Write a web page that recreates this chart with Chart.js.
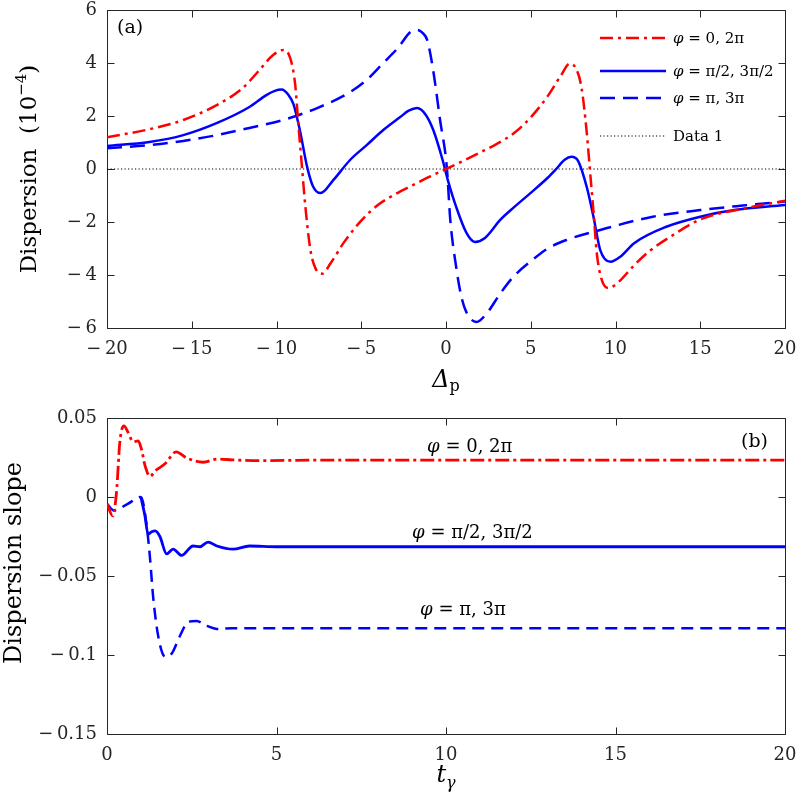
<!DOCTYPE html>
<html>
<head>
<meta charset="utf-8">
<script src="https://cdn.jsdelivr.net/npm/chart.js@4.4.1/dist/chart.umd.min.js"></script>
<style>
  html, body { margin: 0; padding: 0; background: #ffffff; }
  #wrap { position: relative; width: 796px; height: 800px; }
  canvas { position: absolute; left: 0; }
  #c1 { top: 0; }
  #c2 { top: 400px; }
</style>
</head>
<body>
<div id="wrap">
  <canvas id="c1" width="796" height="400"></canvas>
  <canvas id="c2" width="796" height="400"></canvas>
</div>
<script>
// ---------------- DATA: panel (a) ----------------
const deltaRed = [-20, -17.5, -15.5, -13.5, -12, -11, -10.2, -9.6, -9.2, -8.9, -8.7, -8.5, -8.3, -8.0, -7.7, -7.3, -6.8, -6, -5, -4, -3, -2, -1, 0, 1, 2, 3, 4, 5, 6, 6.8, 7.3, 7.7, 8.0, 8.3, 8.5, 8.7, 8.9, 9.2, 9.6, 10.2, 11, 12, 13.5, 15, 17.5, 20];
const dispRed = [1.2, 1.5, 1.85, 2.42, 3.05, 3.74, 4.3, 4.49, 4.2, 3.2, 1.6, 0.1, -1.4, -3.05, -3.75, -3.95, -3.55, -2.75, -1.95, -1.35, -0.95, -0.62, -0.3, 0, 0.3, 0.62, 0.95, 1.35, 1.95, 2.75, 3.55, 3.98, 3.75, 3.05, 1.4, -0.1, -1.6, -3.2, -4.2, -4.49, -4.25, -3.7, -3.1, -2.45, -1.9, -1.5, -1.2];

const deltaHalf = [-20, -17.5, -15.5, -13.5, -11.6, -10.6, -10.1, -9.7, -9.3, -9.0, -8.6, -8.2, -7.85, -7.4, -6.65, -5.66, -4.68, -3.7, -2.7, -2.2, -1.7, -1.2, -0.75, -0.2, 0.1, 0.6, 1.2, 1.7, 2.3, 3.2, 4, 5, 6, 6.5, 7, 7.4, 7.8, 8.3, 8.7, 9.1, 9.7, 10.3, 11.1, 13, 15, 17, 20];
const dispHalf = [0.87, 1.02, 1.28, 1.74, 2.34, 2.79, 2.95, 3.0, 2.8, 2.45, 1.4, 0.1, -0.65, -0.91, -0.42, 0.34, 0.9, 1.47, 1.96, 2.2, 2.3, 2.05, 1.47, 0.34, -0.4, -1.43, -2.4, -2.75, -2.6, -1.92, -1.45, -0.9, -0.33, 0.0, 0.35, 0.46, 0.3, -0.67, -1.8, -3.06, -3.5, -3.3, -2.8, -2.18, -1.8, -1.55, -1.36];

const deltaPi = [-20, -17.5, -15.5, -13.5, -11.6, -9.6, -7.6, -5.66, -4.7, -3.7, -2.8, -2.1, -1.7, -1.4, -1.1, -0.75, -0.35, 0.05, 0.25, 0.6, 0.9, 1.2, 1.8, 2.4, 3.2, 4, 5.1, 6, 7.1, 9.1, 12.2, 15, 17.5, 20];
const dispPi = [0.78, 0.9, 1.06, 1.28, 1.55, 1.85, 2.3, 2.9, 3.35, 4.0, 4.6, 5.17, 5.25, 5.15, 4.85, 3.7, 1.85, 0.05, -1.9, -3.7, -4.8, -5.4, -5.77, -5.45, -4.7, -4.05, -3.43, -3.0, -2.68, -2.3, -1.8, -1.55, -1.38, -1.23];

const deltaRef = [-20, 20];
const dispRef = [0, 0];

const xTicksA = [-20, -15, -10, -5, 0, 5, 10, 15, 20];
const yTicksA = [-6, -4, -2, 0, 2, 4, 6];

// ---------------- DATA: panel (b) ----------------
const tRed = [0, 0.17, 0.28, 0.38, 0.5, 0.62, 0.77, 0.92, 1.02, 1.12, 1.27, 1.42, 1.71, 2.04, 2.35, 2.84, 3.24, 3.7, 4.5, 6, 8, 10, 12, 14, 16, 18, 20];
const slopeRed = [-0.0044, -0.012, 0.003, 0.035, 0.045, 0.041, 0.035, 0.0355, 0.030, 0.02, 0.013, 0.0165, 0.021, 0.0285, 0.0247, 0.022, 0.024, 0.0235, 0.023, 0.0233, 0.0234, 0.0233, 0.0234, 0.0234, 0.0233, 0.0234, 0.0234];

const tHalf = [1.0, 1.12, 1.21, 1.32, 1.42, 1.56, 1.76, 1.95, 2.2, 2.54, 2.74, 2.98, 3.24, 3.72, 4.2, 5, 6, 8, 10, 12, 14, 16, 18, 20];
const slopeHalf = [0.0, -0.012, -0.0235, -0.022, -0.0215, -0.025, -0.036, -0.033, -0.037, -0.031, -0.0315, -0.0285, -0.031, -0.033, -0.031, -0.0315, -0.0315, -0.0315, -0.0315, -0.0315, -0.0315, -0.0315, -0.0315, -0.0315];

const tPi = [0, 0.2, 0.6, 1.0, 1.17, 1.27, 1.36, 1.51, 1.71, 1.91, 2.15, 2.4, 2.64, 2.94, 3.24, 3.7, 5, 7, 10, 13, 16, 20];
const slopePi = [-0.0044, -0.0085, -0.0045, 0.0, -0.018, -0.039, -0.063, -0.088, -0.101, -0.099, -0.088, -0.079, -0.0785, -0.0815, -0.0835, -0.083, -0.083, -0.083, -0.083, -0.083, -0.083, -0.083];

const xTicksB = [0, 5, 10, 15, 20];
const yTicksB = [-0.15, -0.1, -0.05, 0, 0.05];

const seriesLabels = ['0, 2\u03c0', '\u03c0/2, 3\u03c0/2', '\u03c0, 3\u03c0'];
const refLabel = 'Data 1';

// ---------------- helpers ----------------
const SERIF = '"DejaVu Serif", "Liberation Serif", serif';
const RED = '#ff0000';
const BLUE = '#0000ff';
const AXIS = '#262626';

const pts = (xs, ys) => xs.map((x, i) => ({ x: x, y: ys[i] }));
const fmtTick = v => {
  const r = Math.round(v * 1000) / 1000;
  if (r < 0) return '\u2212\u2009' + String(-r);
  return String(r);
};

function rich(ctx, parts, x, y, align) {
  let w = 0;
  parts.forEach(p => { ctx.font = p[1]; w += ctx.measureText(p[0]).width; });
  let cx = align === 'center' ? x - w / 2 : (align === 'right' ? x - w : x);
  ctx.textAlign = 'left';
  ctx.textBaseline = 'alphabetic';
  parts.forEach(p => {
    ctx.font = p[1];
    ctx.fillText(p[0], cx, y + (p[2] || 0));
    cx += ctx.measureText(p[0]).width;
  });
}
const phiParts = (rest, size) => [
  ['\u03c6', 'italic ' + size + 'px ' + SERIF],
  [' = ' + rest, size + 'px ' + SERIF]
];

function boxAndTicks(chart, xt, yt) {
  const { ctx, chartArea: a, scales } = chart;
  const xs = scales.x, ys = scales.y;
  ctx.save();
  ctx.strokeStyle = AXIS;
  ctx.lineWidth = 1;
  const L = Math.round(a.left) + 0.5, R = Math.round(a.right) + 0.5;
  const T = Math.round(a.top) + 0.5, B = Math.round(a.bottom) + 0.5;
  ctx.beginPath();
  ctx.rect(L, T, R - L, B - T);
  const tl = 7;
  xt.forEach(v => {
    const px = Math.round(xs.getPixelForValue(v)) + 0.5;
    ctx.moveTo(px, B); ctx.lineTo(px, B - tl);
    ctx.moveTo(px, T); ctx.lineTo(px, T + tl);
  });
  yt.forEach(v => {
    const py = Math.round(ys.getPixelForValue(v)) + 0.5;
    ctx.moveTo(L, py); ctx.lineTo(L + tl, py);
    ctx.moveTo(R, py); ctx.lineTo(R - tl, py);
  });
  ctx.stroke();
  ctx.restore();
}

function lineDS(xs, ys, color, dash, width, label) {
  return {
    label: label,
    data: pts(xs, ys),
    borderColor: color,
    backgroundColor: color,
    borderWidth: width,
    borderDash: dash,
    pointRadius: 0,
    fill: false,
    cubicInterpolationMode: 'monotone'
  };
}

function scaleCfg(min, max, ticksArr, pad, extra) {
  return Object.assign({
    type: 'linear',
    min: min,
    max: max,
    afterBuildTicks: s => { s.ticks = ticksArr.map(v => ({ value: v })); },
    ticks: {
      callback: v => fmtTick(v),
      font: { family: SERIF, size: 18 },
      color: AXIS,
      maxRotation: 0,
      autoSkip: false,
      padding: pad
    },
    grid: { display: false, drawTicks: false },
    border: { display: false }
  }, extra);
}
const fitH = h => s => { s.height = h; s.paddingLeft = 0; s.paddingRight = 0; };
const fitW = w => s => { s.width = w; s.paddingTop = 0; s.paddingBottom = 0; };

// ---------------- panel (a) ----------------
const dsA = [
  lineDS(deltaRed, dispRed, RED, [13, 5, 3, 5], 2.5, seriesLabels[0]),
  lineDS(deltaHalf, dispHalf, BLUE, [], 2.5, seriesLabels[1]),
  lineDS(deltaPi, dispPi, BLUE, [15, 8], 2.5, seriesLabels[2]),
  lineDS(deltaRef, dispRef, '#000000', [1.2, 2.3], 1.2, refLabel)
];

const plugA = {
  id: 'decorA',
  beforeDatasetsDraw(chart) { boxAndTicks(chart, xTicksA, yTicksA); },
  afterDraw(chart) {
    const { ctx, chartArea: a } = chart;
    ctx.save();
    ctx.fillStyle = '#000';
    rich(ctx, [['(a)', '19px ' + SERIF]], a.left + 10, a.top + 23, 'left');
    rich(ctx, [['\u0394', 'italic 24px ' + SERIF], ['p', '16px ' + SERIF, 4]], (a.left + a.right) / 2, 387, 'center');
    ctx.save();
    ctx.translate(36, (a.top + a.bottom) / 2);
    ctx.rotate(-Math.PI / 2);
    rich(ctx, [['Dispersion  (10', '23px ' + SERIF], ['\u22124', '15px ' + SERIF, -10], [')', '23px ' + SERIF]], 0, 0, 'center');
    ctx.restore();
    const rowsY = [38, 71, 98, 136];
    const x0 = a.right - 185, x1 = a.right - 119, tx = a.right - 112;
    chart.data.datasets.forEach((ds, i) => {
      const y = rowsY[i];
      ctx.save();
      ctx.strokeStyle = ds.borderColor;
      ctx.lineWidth = ds.borderWidth;
      ctx.setLineDash(ds.borderDash || []);
      ctx.beginPath();
      ctx.moveTo(x0, y); ctx.lineTo(x1, y);
      ctx.stroke();
      ctx.restore();
      ctx.fillStyle = '#000';
      if (i < 3) rich(ctx, phiParts(ds.label, 15), tx, y + 5, 'left');
      else rich(ctx, [[ds.label, '15px ' + SERIF]], tx, y + 5, 'left');
    });
    ctx.restore();
  }
};

new Chart(document.getElementById('c1'), {
  type: 'line',
  data: { datasets: dsA },
  options: {
    responsive: false,
    animation: false,
    devicePixelRatio: 1,
    layout: { padding: { top: 10, right: 11, left: 0, bottom: 0 } },
    plugins: { legend: { display: false }, tooltip: { enabled: false } },
    scales: {
      x: scaleCfg(-20, 20, xTicksA, 11, { position: 'bottom', afterFit: fitH(72) }),
      y: scaleCfg(-6, 6, yTicksA, 10, { position: 'left', afterFit: fitW(107) })
    }
  },
  plugins: [plugA]
});

// ---------------- panel (b) ----------------
const dsB = [
  lineDS(tRed, slopeRed, RED, [14, 4, 3, 4], 2.8, seriesLabels[0]),
  lineDS(tHalf, slopeHalf, BLUE, [], 2.8, seriesLabels[1]),
  lineDS(tPi, slopePi, BLUE, [12, 7], 2.5, seriesLabels[2])
];

const plugB = {
  id: 'decorB',
  beforeDatasetsDraw(chart) { boxAndTicks(chart, xTicksB, yTicksB); },
  afterDraw(chart) {
    const { ctx, chartArea: a, scales } = chart;
    ctx.save();
    ctx.fillStyle = '#000';
    rich(ctx, [['(b)', '19px ' + SERIF]], a.right - 44, a.top + 29, 'left');
    const ann = [[10.7, 0.0285], [10.78, -0.026], [10.5, -0.0747]];
    ann.forEach((p, i) => {
      rich(ctx, phiParts(chart.data.datasets[i].label, 18), scales.x.getPixelForValue(p[0]), scales.y.getPixelForValue(p[1]), 'center');
    });
    rich(ctx, [['t', 'italic 24px ' + SERIF], ['\u03b3', 'italic 16px ' + SERIF, 6]], (a.left + a.right) / 2, 382, 'center');
    ctx.save();
    ctx.translate(21, 163);
    ctx.rotate(-Math.PI / 2);
    rich(ctx, [['Dispersion slope', '24px ' + SERIF]], 0, 0, 'center');
    ctx.restore();
    ctx.restore();
  }
};

new Chart(document.getElementById('c2'), {
  type: 'line',
  data: { datasets: dsB },
  options: {
    responsive: false,
    animation: false,
    devicePixelRatio: 1,
    layout: { padding: { top: 18, right: 11, left: 0, bottom: 0 } },
    plugins: { legend: { display: false }, tooltip: { enabled: false } },
    scales: {
      x: scaleCfg(0, 20, xTicksB, 11, { position: 'bottom', afterFit: fitH(66) }),
      y: scaleCfg(-0.15, 0.05, yTicksB, 10, { position: 'left', afterFit: fitW(107) })
    }
  },
  plugins: [plugB]
});
</script>
</body>
</html>
